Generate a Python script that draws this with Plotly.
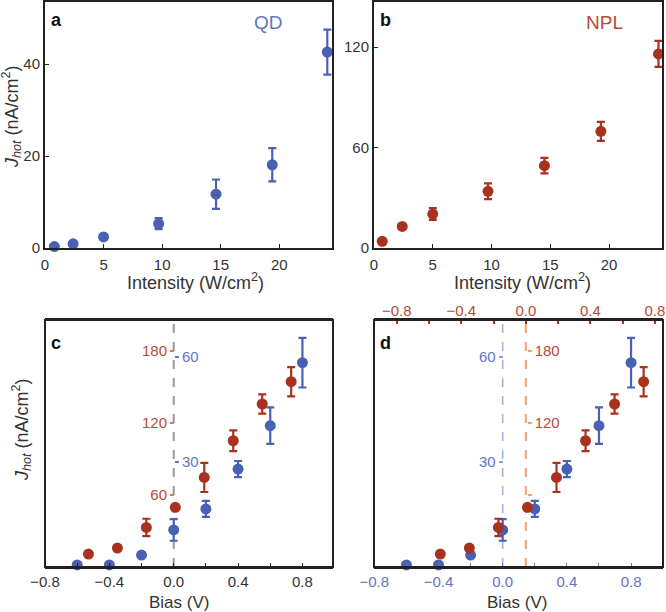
import plotly.graph_objects as go

# ---------------- data ----------------
# panel a: QD, J_hot vs intensity
qd_intensity = [0.8, 2.4, 5.0, 9.7, 14.6, 19.4, 24.1]
qd_j = [0.3, 0.9, 2.4, 5.3, 11.7, 18.1, 42.6]
qd_err = [0.0, 0.0, 0.0, 1.2, 3.2, 3.6, 4.9]

# panel b: NPL, J_hot vs intensity
npl_intensity = [0.7, 2.4, 5.0, 9.7, 14.5, 19.3, 24.2]
npl_j = [4.0, 12.9, 20.3, 33.9, 49.2, 69.7, 116.0]
npl_err = [0.0, 0.0, 3.5, 4.7, 4.6, 5.7, 7.8]

# panels c, d: J_hot vs bias
qd_bias = [-0.6, -0.4, -0.2, 0.0, 0.2, 0.4, 0.6, 0.8]
qd_jb = [0.6, 0.6, 3.4, 10.6, 16.6, 28.0, 40.4, 58.4]
qd_jb_err = [0.0, 0.0, 0.0, 3.1, 2.3, 2.3, 5.2, 7.1]

npl_bias = [-0.53, -0.35, -0.17, 0.01, 0.19, 0.37, 0.55, 0.73]
npl_jb = [10.8, 15.8, 33.0, 49.7, 74.6, 105.2, 135.8, 154.4]
npl_jb_err = [0.0, 0.0, 7.2, 0.0, 12.1, 8.7, 8.0, 12.2]

int_ticks = [0, 5, 10, 15, 20]
qd_yticks = [0, 20, 40]
npl_yticks = [0, 60, 120]
bias_ticks = [-0.8, -0.4, 0.0, 0.4, 0.8]
qd_inner_ticks = [30, 60]
npl_inner_ticks = [60, 120, 180]

# ---------------- style ----------------
W, H = 666, 612
BLUE = "#4a60b4"
RED = "#a8321e"
BLUE_TXT = "#6275c6"
RED_TXT = "#b84a36"
FONT = "Liberation Sans, Arial, sans-serif"
TXT = "#333333"
FRAME = "#222222"


def px(v):
    return v / W


def py(v):
    return 1 - v / H


dom_ax = [px(45), px(332)]
dom_bx = [px(374), px(662)]
dom_cx = [px(45), px(333)]
dom_dx = [px(374), px(663)]
dom_top = [py(248), py(2)]
dom_bot = [py(567), py(320)]

marker_blue = dict(color=BLUE, size=11)
marker_red = dict(color=RED, size=11)


def err(arr, color):
    return dict(type="data", array=arr, visible=True, color=color, thickness=2.2, width=4)


fig = go.Figure()

fig.add_trace(go.Scatter(x=qd_intensity, y=qd_j, mode="markers", marker=marker_blue,
                         error_y=err(qd_err, BLUE), xaxis="x", yaxis="y",
                         cliponaxis=False, showlegend=False))
fig.add_trace(go.Scatter(x=npl_intensity, y=npl_j, mode="markers", marker=marker_red,
                         error_y=err(npl_err, RED), xaxis="x2", yaxis="y2",
                         cliponaxis=False, showlegend=False))
# panel c (blue on base axes, red on overlaid y axis)
fig.add_trace(go.Scatter(x=qd_bias, y=qd_jb, mode="markers", marker=marker_blue,
                         error_y=err(qd_jb_err, BLUE), xaxis="x3", yaxis="y3",
                         cliponaxis=False, showlegend=False))
fig.add_trace(go.Scatter(x=npl_bias, y=npl_jb, mode="markers", marker=marker_red,
                         error_y=err(npl_jb_err, RED), xaxis="x3", yaxis="y5",
                         cliponaxis=False, showlegend=False))
# panel d (blue on bottom/left axes, red on top/right overlaid axes)
fig.add_trace(go.Scatter(x=qd_bias, y=qd_jb, mode="markers", marker=marker_blue,
                         error_y=err(qd_jb_err, BLUE), xaxis="x4", yaxis="y4",
                         cliponaxis=False, showlegend=False))
fig.add_trace(go.Scatter(x=npl_bias, y=npl_jb, mode="markers", marker=marker_red,
                         error_y=err(npl_jb_err, RED), xaxis="x5", yaxis="y6",
                         cliponaxis=False, showlegend=False))

TF = 15
tickfont = dict(family=FONT, size=TF, color=TXT)
frame = dict(showline=True, linecolor=FRAME, linewidth=2, mirror=True,
             showgrid=False, zeroline=False, automargin=False, ticklabeloverflow="allow")
noframe = dict(showline=False, showgrid=False, zeroline=False, automargin=False,
               ticklabeloverflow="allow")

BLUE_MAX = 70.6
RED_MAX = 205.8

layout = dict(
    template="none",
    width=W, height=H, margin=dict(l=0, r=0, t=0, b=0, pad=0, autoexpand=False),
    paper_bgcolor="white", plot_bgcolor="white",
    font=dict(family=FONT, color=TXT),
    xaxis=dict(domain=dom_ax, anchor="y", range=[0, 24.5], tickvals=int_ticks,
               ticks="inside", ticklen=4, tickcolor=FRAME, tickfont=tickfont,
               ticklabelstandoff=2, **frame),
    yaxis=dict(domain=dom_top, anchor="x", range=[0, 53.5], tickvals=qd_yticks,
               ticks="inside", ticklen=4, tickcolor=FRAME, tickfont=tickfont, **frame),
    xaxis2=dict(domain=dom_bx, anchor="y2", range=[0, 24.5], tickvals=int_ticks,
                ticks="inside", ticklen=4, tickcolor=FRAME, tickfont=tickfont,
                ticklabelstandoff=2, **frame),
    yaxis2=dict(domain=dom_top, anchor="x2", range=[0, 147], tickvals=npl_yticks,
                ticks="inside", ticklen=4, tickcolor=FRAME, tickfont=tickfont, **frame),
    # panel c
    xaxis3=dict(domain=dom_cx, anchor="y3", range=[-0.8, 0.99], tickvals=bias_ticks,
                tickformat=".1f", ticks="inside", ticklen=4, tickcolor=FRAME,
                tickfont=tickfont,
                minor=dict(dtick=0.2, tick0=0, ticks="inside", ticklen=4, tickcolor=FRAME),
                **frame),
    yaxis3=dict(domain=dom_bot, anchor="free", position=px(174), side="right",
                range=[0, BLUE_MAX], tickvals=qd_inner_ticks, ticks="outside", ticklen=4,
                tickwidth=1.5, tickcolor=BLUE_TXT,
                tickfont=dict(family=FONT, size=TF, color=BLUE_TXT), **noframe),
    yaxis5=dict(overlaying="y3", anchor="free", position=px(174), side="left",
                range=[0, RED_MAX], tickvals=npl_inner_ticks, ticks="outside", ticklen=4,
                tickwidth=1.5, tickcolor="#e07a50",
                tickfont=dict(family=FONT, size=TF, color=RED_TXT), **noframe),
    # panel d
    xaxis4=dict(domain=dom_dx, anchor="y4", range=[-0.802, 0.999], tickvals=bias_ticks,
                tickformat=".1f", ticks="inside", ticklen=4, tickcolor=BLUE_TXT,
                tickfont=dict(family=FONT, size=TF, color=BLUE_TXT),
                minor=dict(dtick=0.2, tick0=0, ticks="inside", ticklen=4, tickcolor=BLUE_TXT),
                **frame),
    xaxis5=dict(overlaying="x4", anchor="y4", side="top", range=[-0.941, 0.85],
                tickvals=bias_ticks, tickformat=".1f", ticks="inside", ticklen=4,
                tickcolor=RED, tickwidth=1.5,
                tickfont=dict(family=FONT, size=TF, color=RED_TXT),
                minor=dict(dtick=0.2, tick0=0, ticks="inside", ticklen=4, tickcolor=RED),
                **noframe),
    yaxis4=dict(domain=dom_bot, anchor="free", position=px(502.7), side="left",
                range=[0, BLUE_MAX], tickvals=qd_inner_ticks, ticks="outside", ticklen=4,
                tickwidth=1.5, tickcolor="#8fa0dc",
                tickfont=dict(family=FONT, size=TF, color=BLUE_TXT), **noframe),
    yaxis6=dict(overlaying="y4", anchor="free", position=px(526.7), side="right",
                range=[0, RED_MAX], tickvals=npl_inner_ticks,
                ticktext=["", "120", "180"], ticks="outside", ticklen=4,
                tickwidth=1.5, tickcolor="#f0a070",
                tickfont=dict(family=FONT, size=TF, color=RED_TXT), **noframe),
)
fig.update_layout(**layout)

# frames (left/right sides) for panels c and d
for xr, yr in [("x3", "y3"), ("x4", "y4")]:
    fig.add_shape(type="rect", xref=f"{xr} domain", yref=f"{yr} domain",
                  x0=0, x1=1, y0=0, y1=1, line=dict(color=FRAME, width=2),
                  fillcolor="rgba(0,0,0,0)", layer="above")

# dashed reference lines at zero bias
fig.add_shape(type="line", xref="x3", yref="y3 domain", x0=0, x1=0, y0=0, y1=1,
              line=dict(color="#9a9a9a", width=2, dash="dash"), layer="below")
fig.add_shape(type="line", xref="x4", yref="y4 domain", x0=0, x1=0, y0=0, y1=1,
              line=dict(color="#a3b3e6", width=1.6, dash="dash"), layer="below")
fig.add_shape(type="line", xref="x5", yref="y4 domain", x0=0, x1=0, y0=0, y1=1,
              line=dict(color="#f4a26a", width=2, dash="dash"), layer="below")

ann = []
lab = dict(family=FONT, size=18, color="#111111")
for name, xr, yr, yy in [("a", "x", "y", 0.925), ("b", "x2", "y2", 0.925),
                         ("c", "x3", "y3", 0.905), ("d", "x4", "y4", 0.905)]:
    ann.append(dict(text=f"<b>{name}</b>", xref=f"{xr} domain", yref=f"{yr} domain",
                    x=0.015, y=yy, xanchor="left", yanchor="middle",
                    showarrow=False, font=lab))
ann.append(dict(text="QD", xref="x domain", yref="y domain", x=0.78, y=0.915,
                xanchor="center", yanchor="middle",
                showarrow=False, font=dict(family=FONT, size=19, color=BLUE_TXT)))
ann.append(dict(text="NPL", xref="x2 domain", yref="y2 domain", x=0.80, y=0.915,
                xanchor="center", yanchor="middle",
                showarrow=False, font=dict(family=FONT, size=19, color=RED_TXT)))

title_font = dict(family=FONT, size=18, color=TXT)
bias_font = dict(family=FONT, size=17, color=TXT)
C = dict(xanchor="center", yanchor="middle", showarrow=False, xref="paper", yref="paper")
xt = "Intensity (W/cm<sup>2</sup>)"
ann.append(dict(text=xt, x=px(195), y=py(282), font=title_font, **C))
ann.append(dict(text=xt, x=px(522), y=py(282), font=title_font, **C))
ann.append(dict(text="Bias (V)", x=px(179), y=py(602), font=bias_font, borderpad=0, **C))
ann.append(dict(text="Bias (V)", x=px(517), y=py(602), font=bias_font, borderpad=0, **C))
yt = "<i>J</i><sub><i>hot</i></sub> (nA/cm<sup>2</sup>)"
ann.append(dict(text=yt, x=px(12), y=py(117), textangle=-90, font=title_font, **C))
ann.append(dict(text=yt, x=px(22), y=py(430), textangle=-90, font=title_font, **C))
fig.update_layout(annotations=ann)

fig.write_html("out.html")
